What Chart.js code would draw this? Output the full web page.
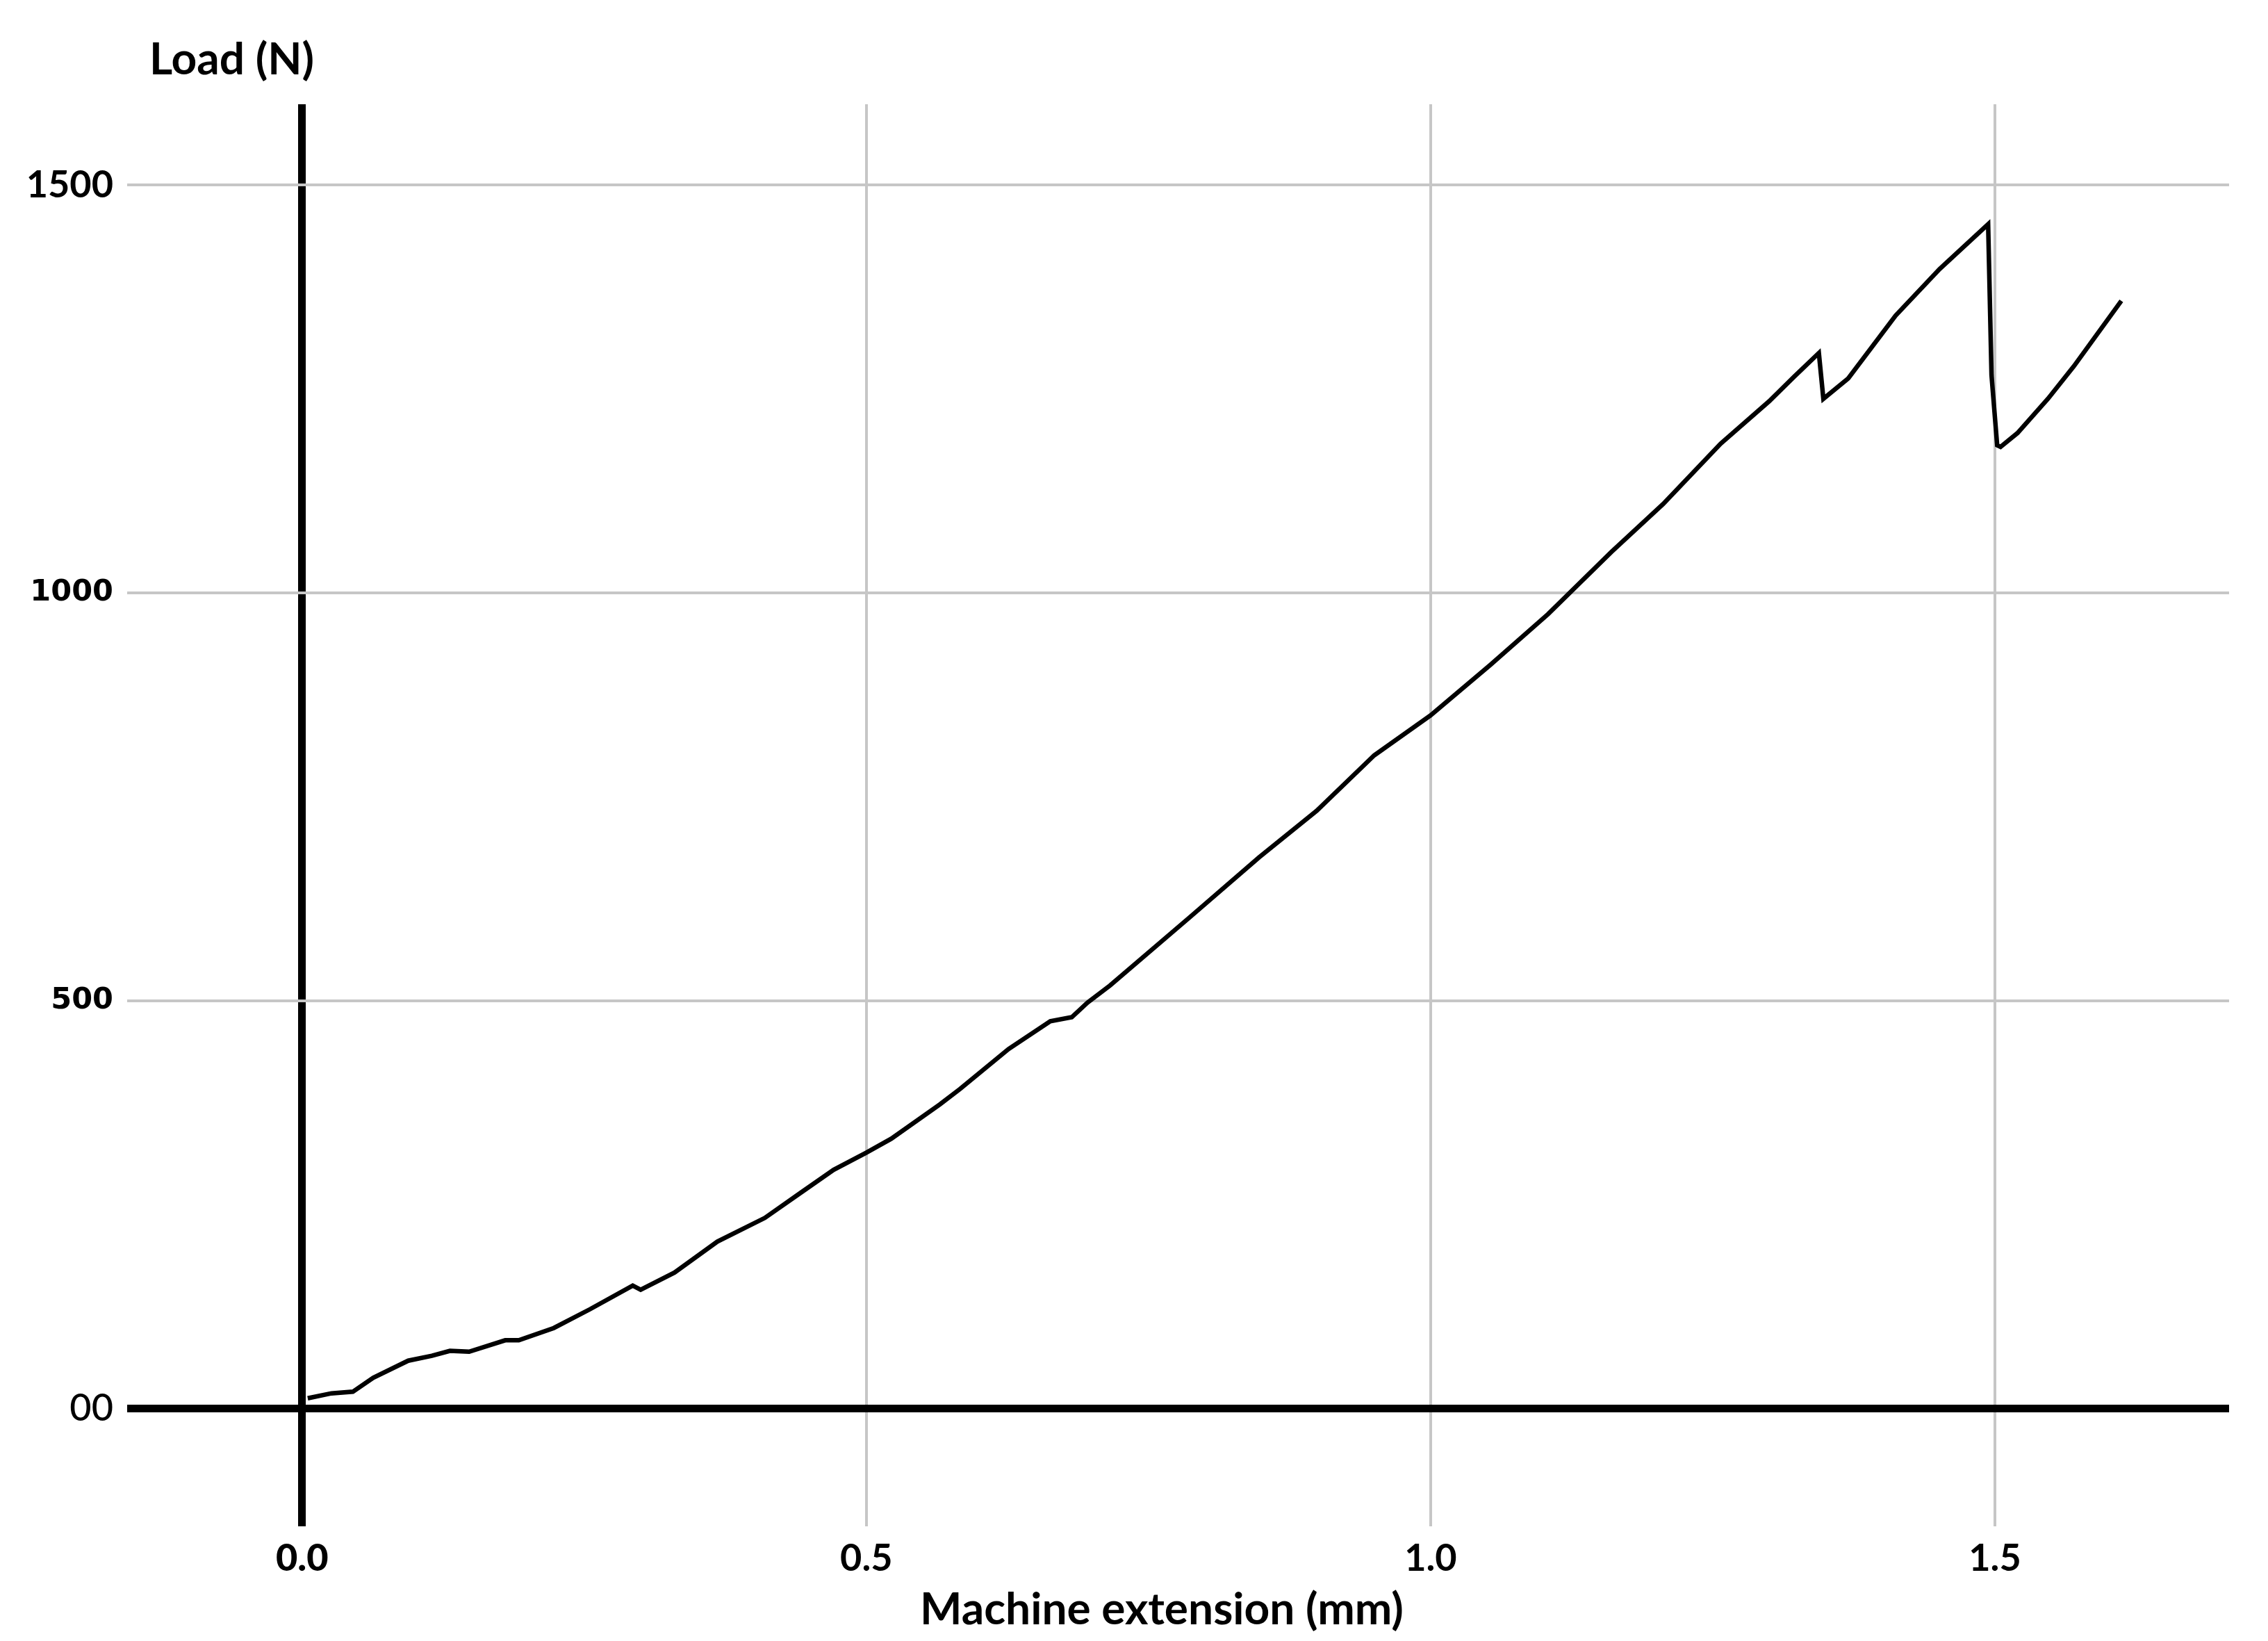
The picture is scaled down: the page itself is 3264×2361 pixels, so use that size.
<!DOCTYPE html>
<html>
<head>
<meta charset="utf-8">
<script src="https://cdn.jsdelivr.net/npm/chart.js@4/dist/chart.umd.min.js"></script>
<style>
  html, body { margin: 0; padding: 0; background: #fff; }
  #wrap { width: 3264px; height: 2361px; }
</style>
</head>
<body>
<div id="wrap"><canvas id="chart" width="3264" height="2361"></canvas></div>
<script>
// machine extension (mm) and load (N)
const extension = [0.005, 0.026, 0.045, 0.063, 0.094, 0.115, 0.131, 0.148, 0.180, 0.192,
  0.223, 0.255, 0.293, 0.300, 0.330, 0.368, 0.410, 0.443, 0.471, 0.500,
  0.522, 0.565, 0.583, 0.626, 0.663, 0.682, 0.696, 0.716, 0.787, 0.848,
  0.899, 0.950, 1.000, 1.053, 1.104, 1.160, 1.206, 1.257, 1.300, 1.322,
  1.344, 1.348, 1.370, 1.412, 1.451, 1.494, 1.497, 1.502, 1.505, 1.520,
  1.547, 1.570, 1.612];
const load = [13, 19, 21, 38, 59, 65, 71, 70, 84, 84,
  99, 122, 151, 146, 167, 205, 234, 266, 293, 314,
  331, 373, 392, 441, 475, 480, 498, 519, 603, 676,
  733, 801, 850, 912, 974, 1050, 1109, 1183, 1235, 1265,
  1294, 1238, 1263, 1340, 1397, 1452, 1267, 1181, 1179, 1196,
  1238, 1278, 1358];

const xTicks = [0, 0.5, 1.0, 1.5];
const yTicks = [0, 500, 1000, 1500];
const yTickLabels = ['00', '500', '1000', '1500'];
const xTitle = 'Machine extension (mm)';
const yTitle = 'Load (N)';

const GRID = '#c6c6c6';

// axis titles sit outside the usual Chart.js title spots
const axisTitles = {
  id: 'axisTitles',
  afterDraw(chart) {
    const ctx = chart.ctx;
    ctx.save();
    ctx.fillStyle = '#000';
    ctx.font = 'bold 64px Lato';
    ctx.textBaseline = 'middle';
    ctx.textAlign = 'left';
    ctx.fillText(yTitle, 215, 86);
    ctx.textAlign = 'center';
    ctx.fillText(xTitle, 1672, 2316);
    ctx.restore();
  }
};

const zeroColor = c => (c.tick && c.tick.value === 0) ? '#000' : GRID;
const zeroWidth = c => (c.tick && c.tick.value === 0) ? 11 : 4;

new Chart(document.getElementById('chart'), {
  type: 'scatter',
  data: {
    datasets: [{
      data: extension.map((x, i) => ({ x, y: load[i] })),
      showLine: true,
      borderColor: '#000',
      borderWidth: 6.5,
      pointRadius: 0,
      tension: 0,
      fill: false
    }]
  },
  options: {
    responsive: false,
    animation: false,
    devicePixelRatio: 1,
    layout: { padding: { top: 150, right: 56, left: 0, bottom: 0 } },
    plugins: { legend: { display: false }, tooltip: { enabled: false } },
    scales: {
      x: {
        type: 'linear',
        min: -0.155,
        max: 1.7075,
        afterBuildTicks: s => { s.ticks = xTicks.map(v => ({ value: v })); },
        afterFit: s => { s.height = 165; },
        border: { display: false },
        grid: { color: zeroColor, lineWidth: zeroWidth, drawTicks: false },
        ticks: {
          color: '#000',
          padding: 14,
          maxRotation: 0,
          callback: v => v.toFixed(1),
          font: c => ({ family: 'Lato', size: 54, weight: (c.tick && c.tick.value === 0) ? '900' : 'bold' })
        }
      },
      y: {
        min: -144,
        max: 1599,
        afterBuildTicks: s => { s.ticks = yTicks.map(v => ({ value: v })); },
        afterFit: s => { s.width = 183; },
        border: { display: false },
        grid: { color: zeroColor, lineWidth: zeroWidth, drawTicks: false },
        ticks: {
          color: '#000',
          padding: 20,
          callback: v => yTickLabels[yTicks.indexOf(v)],
          font: c => {
            const v = c.tick ? c.tick.value : 0;
            if (v === 500 || v === 1000) return { family: 'DejaVu Sans', size: 43, weight: 'bold' };
            if (v === 0) return { family: 'Lato', size: 54, weight: '500' };
            return { family: 'Lato', size: 54, weight: 'bold' };
          }
        }
      }
    }
  },
  plugins: [axisTitles]
});
</script>
</body>
</html>
